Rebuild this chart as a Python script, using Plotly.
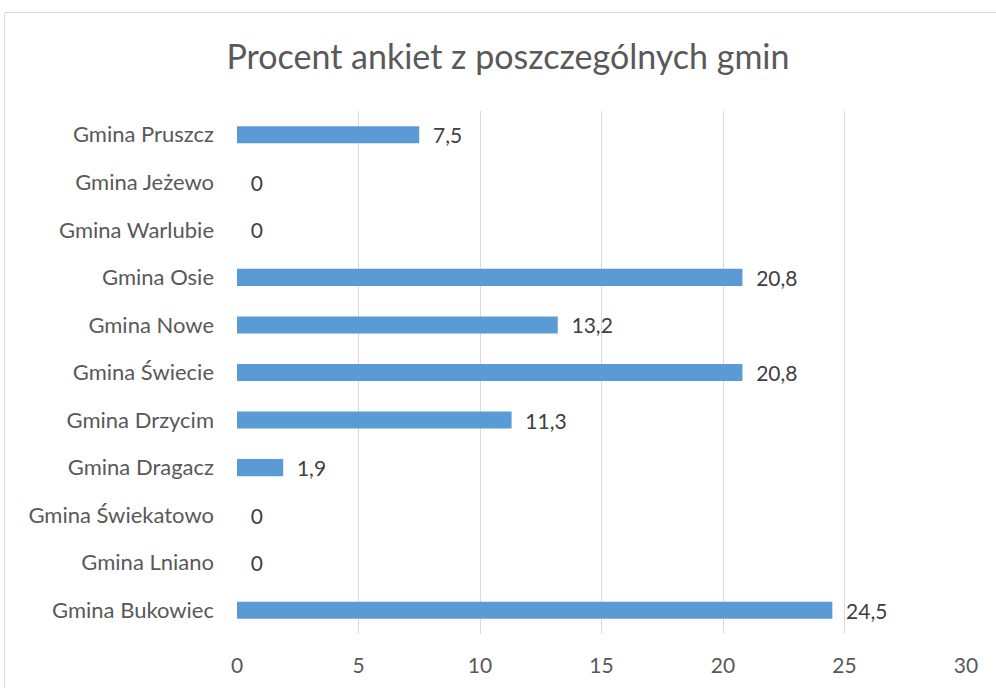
import plotly.graph_objects as go

categories = ["Gmina Bukowiec", "Gmina Lniano", "Gmina Świekatowo", "Gmina Dragacz",
              "Gmina Drzycim", "Gmina Świecie", "Gmina Nowe", "Gmina Osie",
              "Gmina Warlubie", "Gmina Jeżewo", "Gmina Pruszcz"]
values = [24.5, 0, 0, 1.9, 11.3, 20.8, 13.2, 20.8, 0, 0, 7.5]
x_ticks = [0, 5, 10, 15, 20, 25, 30]

labels = ["  " + (f"{v:g}".replace(".", ",")) for v in values]

FONT = "Lato, 'Open Sans', sans-serif"

fig = go.Figure(go.Bar(
    y=categories, x=values, orientation="h",
    marker=dict(color="#5b9bd5", line=dict(width=0)),
    width=0.36,
    text=labels, textposition="outside", cliponaxis=False, constraintext="none",
    textfont=dict(family=FONT, size=21, color="#404040"),
    hoverinfo="skip",
))

W, H = 996, 688
L, R, T, B = 237, 30, 111, 54
pw, ph = W - L - R, H - T - B

def px(x):
    return (x - L) / pw

def py(y):
    return (H - B - y) / ph

fig.update_layout(
    width=W, height=H,
    margin=dict(l=L, r=R, t=T, b=B, autoexpand=False),
    paper_bgcolor="white", plot_bgcolor="white",
    showlegend=False,
    title=dict(text="Procent ankiet z poszczególnych gmin", x=508 / W, xanchor="center",
               y=1 - 57 / H, yanchor="middle",
               font=dict(family=FONT, size=34, color="#595959")),
    xaxis=dict(range=[0, 30], tickvals=x_ticks, showgrid=True, gridcolor="#d9d9d9",
               gridwidth=1, zeroline=False, showline=False, ticks="",
               tickfont=dict(family=FONT, size=21, color="#595959"),
               ticklabelstandoff=17),
    yaxis=dict(showgrid=False, zeroline=False, showline=False, ticks="",
               tickfont=dict(family=FONT, size=22, color="#595959"),
               ticklabelstandoff=22),
    bargap=0.64,
    shapes=[dict(type="rect", xref="paper", yref="paper",
                 x0=px(4.5), x1=px(1010), y0=py(700), y1=py(12.5),
                 line=dict(color="#d9d9d9", width=1), layer="below")],
)

fig.write_html("out.html", config={"displayModeBar": False},
               post_script="document.body.style.margin='0';")
